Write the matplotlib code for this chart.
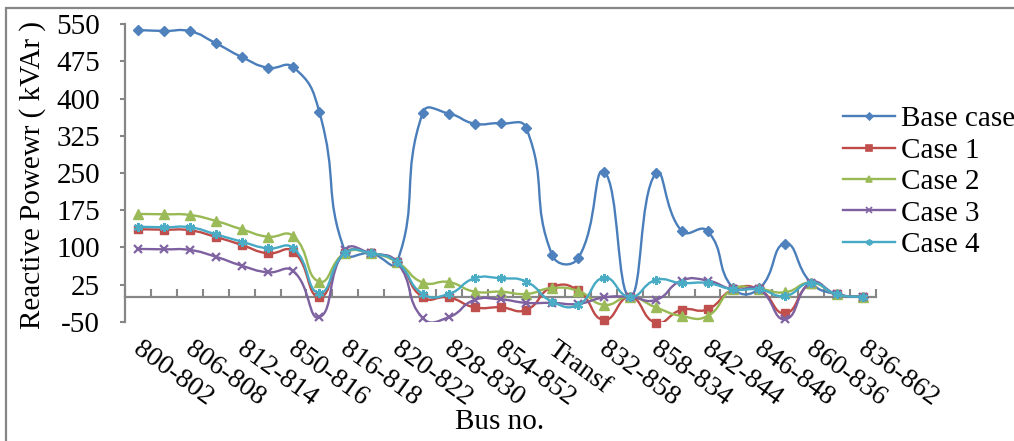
import numpy as np
import matplotlib
matplotlib.use("Agg")
import matplotlib.pyplot as plt
import matplotlib.transforms as mtransforms
from matplotlib.path import Path
from matplotlib.patches import PathPatch, Rectangle
from matplotlib.lines import Line2D
from matplotlib.ticker import FixedLocator, NullFormatter

plt.rcParams['font.family'] = ['Liberation Serif', 'DejaVu Serif']

# ---------------- data ----------------
categories = ["800-802", "802-806", "806-808", "808-812", "812-814", "814-850",
              "850-816", "816-824", "816-818", "818-820", "820-822", "824-828",
              "828-830", "830-854", "854-852", "852-832", "Transf", "888-890",
              "832-858", "858-864", "858-834", "834-842", "842-844", "844-846",
              "846-848", "834-860", "860-836", "836-840", "836-862"]

base_case = [538.5, 536.5, 536, 511.7, 484, 462.5, 463, 373, 90, 88, 70, 372,
             370, 349.5, 350, 340, 84, 78, 252.7, 0, 249.4, 133, 133, 17, 17,
             107.5, 28.7, 5, 0]
case_1 = [136.4, 135.7, 134.4, 121, 104.8, 88, 91.4, 0, 89, 88, 70, -1, -1,
          -21, -21, -26, 20, 13, -46.5, 0, -52, -26, -25, 15, 15, -33, 26, 5, 0]
case_2 = [167.3, 166.7, 165.3, 153.2, 136.4, 121.5, 122.3, 30.8, 89, 88, 70,
          29, 30, 10.6, 10.6, 6, 18, 12, -16, 0, -21, -38.5, -38.5, 16, 16,
          9.4, 28.7, 5, 0]
case_3 = [96.7, 96, 94.7, 81, 63, 49.7, 51.7, -41, 95, 88, 70, -43, -41, -6,
          -5, -12, -12, -14, -1, 0, -6, 33, 33, 15, 15, -45, 28.7, 5, 0]
case_4 = [141.7, 140.5, 140.5, 126.3, 111.4, 98, 98, 8, 89, 88, 70, 6, 6,
          37.6, 37.6, 30.7, -9.6, -16, 38.8, 0, 34, 28, 28, 15, 15, 2, 28.7, 5, 0]

series_names = ["Base case", "Case 1", "Case 2", "Case 3", "Case 4"]
series_values = [base_case, case_1, case_2, case_3, case_4]

y_ticks = [-50, 25, 100, 175, 250, 325, 400, 475, 550]

# ---------------- styles ----------------
line_colors = ["#4A7EBB", "#BE4B48", "#98B954", "#7D60A0", "#46AAC5"]
marker_colors = ["#4F81BD", "#C0504D", "#9BBB59", "#8064A2", "#4BACC6"]
markers = ["D", "s", "^", "x", (6, 2, 0)]
marker_sizes = [5, 6, 6.5, 5.5, 6.5]
legend_marker_sizes = [3.5, 5, 5, 4, 4.5]
GRAY = "#868686"
FS = 21
XFS = 20

W, H = 1014, 441
fig = plt.figure(figsize=(W / 100, H / 100), dpi=100)
ax = fig.add_axes([125.3 / W, 1 - 321.7 / H, 750.4 / W, (321.7 - 24.3) / H])

n = len(categories)
x = np.arange(n)
ax.set_xlim(-0.5, n - 0.5)
ax.set_ylim(-50, 550)

# pixel scale for smoothing (Excel-like smoothed lines)
sx = 750.4 / n
sy = (321.7 - 24.3) / 600.0


def smooth_path(xs, ys, k=0.5):
    P = np.column_stack([xs, ys]).astype(float)
    S = P * np.array([sx, sy])
    m = len(P)
    d = np.hypot(*np.diff(S, axis=0).T)
    verts = [P[0]]
    codes = [Path.MOVETO]
    for i in range(m - 1):
        p0 = P[i]
        p1 = P[i + 1]
        pprev = P[i - 1] if i > 0 else P[i]
        pnext = P[i + 2] if i + 2 < m else P[i + 1]
        dprev = d[i - 1] if i > 0 else d[i]
        dnext = d[i + 1] if i + 1 < m - 1 else d[i]
        di = d[i]
        r1 = di / (dprev + di) if (dprev + di) > 0 else 0.5
        r2 = di / (di + dnext) if (di + dnext) > 0 else 0.5
        c1 = p0 + k * (p1 - pprev) * r1
        c2 = p1 - k * (pnext - p0) * r2
        verts += [c1, c2, p1]
        codes += [Path.CURVE4] * 3
    return Path(verts, codes)


for j, (name, vals) in enumerate(zip(series_names, series_values)):
    path = smooth_path(x, vals)
    patch = PathPatch(path, facecolor="none", edgecolor=line_colors[j],
                      lw=1.7, zorder=3 + j * 2, capstyle="round",
                      joinstyle="round")
    ax.add_patch(patch)
    mk = markers[j]
    ax.plot(x, vals, linestyle="none", marker=mk, ms=marker_sizes[j],
            color=marker_colors[j], mec=marker_colors[j],
            mew=1.6 if mk in ("x",) or isinstance(mk, tuple) else 1.0,
            zorder=4 + j * 2, clip_on=False)

# ---------------- axes styling ----------------
for s in ("top", "right"):
    ax.spines[s].set_visible(False)
ax.spines["left"].set_color(GRAY)
ax.spines["left"].set_linewidth(1.6)
ax.spines["bottom"].set_color(GRAY)
ax.spines["bottom"].set_linewidth(1.6)
ax.spines["bottom"].set_position(("data", 0))

ax.set_yticks(y_ticks)
ax.set_yticklabels([str(t) for t in y_ticks])
ax.tick_params(axis="y", direction="out", length=3.6, width=1.5, color=GRAY,
               labelsize=FS, pad=14.5, labelcolor="black")

# major ticks at category boundaries (pointing up), labels on minor ticks
ax.xaxis.set_major_locator(FixedLocator(np.arange(n + 1) - 0.5))
ax.xaxis.set_major_formatter(NullFormatter())
ax.tick_params(axis="x", which="major", direction="in", length=5.8, width=1.5,
               color=GRAY)
shown = list(range(0, n, 2))
ax.xaxis.set_minor_locator(FixedLocator(shown))
ax.set_xticklabels([categories[i] for i in shown], minor=True)
ax.tick_params(axis="x", which="minor", length=0, pad=28.5, labelsize=XFS)
shift = mtransforms.ScaledTranslation(5 / 100, 0, fig.dpi_scale_trans)
for lab in ax.get_xticklabels(minor=True):
    lab.set_rotation(-36)
    lab.set_ha("left")
    lab.set_va("top")
    lab.set_rotation_mode("anchor")
    lab.set_transform(lab.get_transform() + shift)

fig.text(33 / W, 1 - 175 / H, "Reactive Powewr ( kVAr )", rotation=90,
         ha="center", va="center", fontsize=FS)
fig.text(500 / W, 1 - 422 / H, "Bus no.", ha="center", va="center",
         fontsize=FS)

# legend
handles = [Line2D([], [], color=line_colors[j], lw=1.7, marker=markers[j],
                  ms=legend_marker_sizes[j], mfc=marker_colors[j],
                  mec=marker_colors[j], mew=1.2)
           for j in range(len(series_names))]
fig.legend(handles, series_names, loc="upper left",
           bbox_to_anchor=(843 / W, 1 - 106 / H), frameon=False, fontsize=FS,
           handlelength=1.78, handletextpad=0.22, labelspacing=0.17,
           borderpad=0, borderaxespad=0)

# outer chart border
fig.add_artist(Rectangle((6 / W, -0.2), 1.5, 1.2 - 7.5 / H, fill=False,
                         edgecolor=GRAY, lw=1.6, transform=fig.transFigure,
                         clip_on=False))

fig.savefig("out.png", dpi=100)
